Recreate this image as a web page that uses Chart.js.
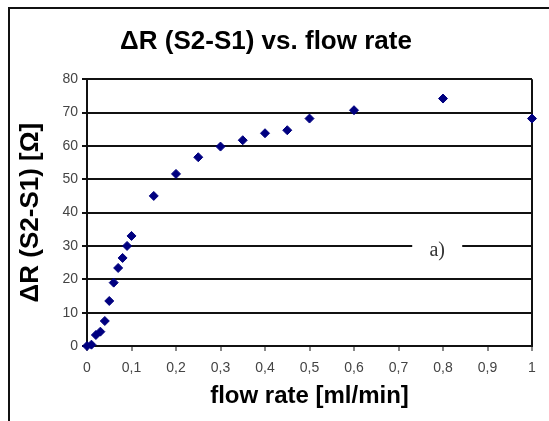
<!DOCTYPE html>
<html>
<head>
<meta charset="utf-8">
<script src="https://cdn.jsdelivr.net/npm/chart.js@4"></script>
<style>
  html, body { margin: 0; padding: 0; background: #fff; overflow: hidden; }
  #wrap { position: relative; width: 549px; height: 421px; }
  #frame {
    position: absolute; left: 8px; top: 7px; width: 600px; height: 500px;
    border-left: 2px solid #111; border-top: 2px solid #111; pointer-events: none;
  }
</style>
</head>
<body>
<div id="wrap">
  <canvas id="chart" width="549" height="421"></canvas>
  <div id="frame"></div>
</div>
<script>
const flowRates = [0, 0.01, 0.02, 0.03, 0.04, 0.05, 0.06, 0.07, 0.08, 0.09, 0.1, 0.15, 0.2, 0.25, 0.3, 0.35, 0.4, 0.45, 0.5, 0.6, 0.8, 1];
const deltaR = [0, 0.4, 3.3, 4.3, 7.5, 13.5, 19, 23.4, 26.4, 30, 33, 45, 51.6, 56.6, 59.8, 61.7, 63.8, 64.7, 68.2, 70.7, 74.2, 68.2];
const xTickLabels = ["0", "0,1", "0,2", "0,3", "0,4", "0,5", "0,6", "0,7", "0,8", "0,9", "1"];
const yTickLabels = ["0", "10", "20", "30", "40", "50", "60", "70", "80"];
const annotationText = "a)";
const annotationAt = { x: 0.787, y: 30 };

const sans = "'Liberation Sans', Arial, sans-serif";

// white gap in the 30 gridline with the "a)" label
const annotationPlugin = {
  id: "annotation",
  afterDatasetsDraw(chart) {
    const { ctx, scales } = chart;
    const px = scales.x.getPixelForValue(annotationAt.x);
    const py = scales.y.getPixelForValue(annotationAt.y);
    ctx.save();
    ctx.fillStyle = "#fff";
    ctx.fillRect(px - 25, py - 4, 50, 8);
    ctx.fillStyle = "#333";
    ctx.font = "20px 'Liberation Serif', 'Times New Roman', serif";
    ctx.textAlign = "center";
    ctx.textBaseline = "middle";
    ctx.fillText(annotationText, px, py + 5);
    ctx.restore();
  },
};

const points = flowRates.map((x, i) => ({ x, y: deltaR[i] }));

new Chart(document.getElementById("chart"), {
  type: "scatter",
  data: {
    datasets: [
      {
        data: points,
        pointStyle: "rectRot",
        pointRadius: 4.5,
        pointHoverRadius: 4.5,
        backgroundColor: "#000080",
        borderColor: "#000080",
        borderWidth: 1,
        clip: false,
      },
    ],
  },
  options: {
    responsive: false,
    animation: false,
    events: [],
    layout: { padding: { left: 0, right: 17, top: 0, bottom: 0 } },
    plugins: {
      legend: { display: false },
      tooltip: { enabled: false },
      title: {
        display: true,
        text: "ΔR (S2-S1) vs. flow rate",
        color: "#000",
        font: { family: sans, size: 26, weight: "bold" },
        padding: { top: 26, bottom: 22 },
      },
    },
    scales: {
      x: {
        type: "linear",
        min: 0,
        max: 1,
        afterFit: (scale) => { scale.height = 75; },
        border: { color: "#111", width: 2 },
        grid: {
          drawOnChartArea: true,
          color: (c) => (c.tick && c.tick.value === 1 ? "#111" : "rgba(0,0,0,0)"),
          lineWidth: 2,
          tickColor: "#111",
          tickLength: 5,
          tickWidth: 1,
        },
        ticks: {
          stepSize: 0.1,
          autoSkip: false,
          maxRotation: 0,
          padding: 9,
          color: "#444",
          font: { family: sans, size: 14 },
          callback: (v, i) => xTickLabels[i],
        },
        title: {
          display: true,
          text: "flow rate [ml/min]",
          color: "#000",
          font: { family: sans, size: 24, weight: "bold" },
          padding: { top: 0, bottom: 10 },
        },
      },
      y: {
        min: 0,
        max: 80,
        afterFit: (scale) => { scale.width = 87; },
        border: { color: "#111", width: 2 },
        grid: {
          color: "#111",
          lineWidth: 2,
          tickLength: 5,
        },
        ticks: {
          stepSize: 10,
          padding: 4,
          color: "#444",
          font: { family: sans, size: 14 },
          callback: (v, i) => yTickLabels[i],
        },
        title: {
          display: true,
          text: "ΔR (S2-S1) [Ω]",
          color: "#000",
          font: { family: sans, size: 26, weight: "bold" },
          padding: { top: 15, bottom: 0 },
        },
      },
    },
  },
  plugins: [annotationPlugin],
});
</script>
</body>
</html>
